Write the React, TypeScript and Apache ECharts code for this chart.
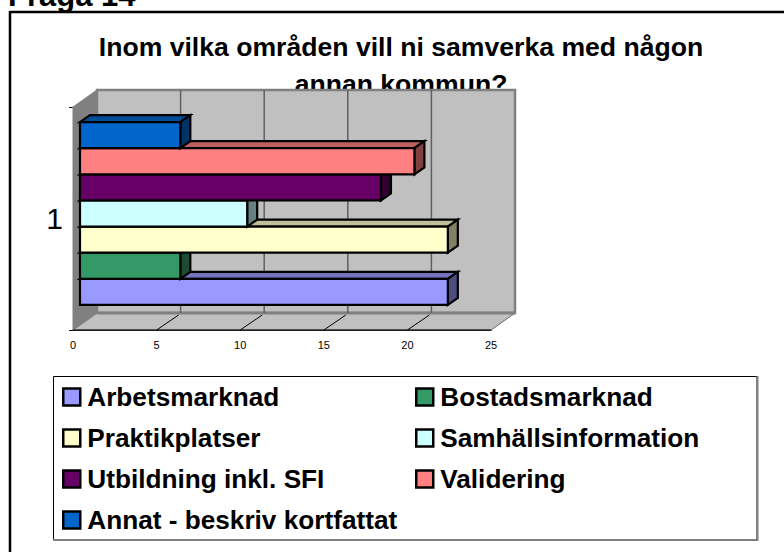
import React, { useEffect, useRef } from "react";
import * as echarts from "echarts";

const categories = ["1"];
const seriesNames = [
  "Arbetsmarknad",
  "Bostadsmarknad",
  "Praktikplatser",
  "Samhällsinformation",
  "Utbildning inkl. SFI",
  "Validering",
  "Annat - beskriv kortfattat",
];
const seriesValues = [22, 6, 22, 10, 18, 20, 6];
const seriesColors = ["#9999FF", "#339966", "#FFFFCC", "#CCFFFF", "#660066", "#FF8080", "#0066CC"];
const xTicks = [0, 5, 10, 15, 20, 25];
const heading = "Fråga 14";
const chartTitle = "Inom vilka områden vill ni samverka med någon\nannan kommun?";

const FONT = '"Liberation Sans", Arial, sans-serif';
const WALL_DX = 24;
const WALL_DY = -17;
const BAR_DX = 10;
const BAR_DY = -7;
const GAP_DX = 7;
const GAP_DY = -5;

function shade(hex: string, k: number) {
  const n = parseInt(hex.slice(1), 16);
  const c = [(n >> 16) & 255, (n >> 8) & 255, n & 255].map((v) => Math.round(v * k));
  return `rgb(${c[0]},${c[1]},${c[2]})`;
}

function renderWalls(_: any, api: any) {
  const b0 = api.coord([0, 0]);
  const band = api.size([0, 1])[1];
  const x0 = b0[0];
  const x1 = api.coord([25, 0])[0];
  const top = b0[1] - band / 2;
  const bot = b0[1] + band / 2;
  const poly = (points: number[][], fill: string, stroke: string, lineWidth = 1) => ({
    type: "polygon",
    shape: { points },
    style: { fill, stroke, lineWidth },
  });
  const line = (a: number[], c: number[], stroke: string, lineWidth = 1) => ({
    type: "line",
    shape: { x1: a[0], y1: a[1], x2: c[0], y2: c[1] },
    style: { stroke, lineWidth },
  });
  const children: any[] = [
    poly(
      [[x0 + WALL_DX, top + WALL_DY], [x1 + WALL_DX, top + WALL_DY], [x1 + WALL_DX, bot + WALL_DY], [x0 + WALL_DX, bot + WALL_DY]],
      "#C0C0C0",
      "#808080",
      2.5
    ),
    poly([[x0, bot], [x0 + WALL_DX, bot + WALL_DY], [x1 + WALL_DX, bot + WALL_DY], [x1, bot]], "#C0C0C0", "#808080", 1),
    poly([[x0, top], [x0 + WALL_DX, top + WALL_DY], [x0 + WALL_DX, bot + WALL_DY], [x0, bot]], "#808080", "#808080", 1),
    line([x0 + WALL_DX, bot + WALL_DY], [x1 + WALL_DX, bot + WALL_DY], "#808080", 3),
    line([x0, bot], [x1, bot], "#000", 1),
    line([x1, bot], [x1 + WALL_DX, bot + WALL_DY], "#808080", 1),
  ];
  xTicks.slice(1, -1).forEach((t) => {
    const x = api.coord([t, 0])[0];
    children.push(line([x + WALL_DX, top + WALL_DY], [x + WALL_DX, bot + WALL_DY], "#606060", 1.5));
    children.push(line([x, bot], [x + WALL_DX - 2, bot + WALL_DY + 2], "#000", 1));
  });
  return { type: "group", children, silent: true };
}

function renderBar(i: number) {
  return (_: any, api: any) => {
    const p = api.coord([api.value(0), 0]);
    const p0 = api.coord([0, 0]);
    const band = api.size([0, 1])[1];
    const h = (band * 0.82) / seriesNames.length;
    const bottom = p[1] + (band * 0.82) / 2 - i * h + GAP_DY;
    const top = bottom - h;
    const left = p0[0] + GAP_DX;
    const right = p[0] + GAP_DX;
    const color = seriesColors[i];
    const style = (fill: string) => ({ fill, stroke: "#000", lineWidth: 2.2, lineJoin: "miter" });
    return {
      type: "group",
      children: [
        {
          type: "polygon",
          shape: { points: [[left, top], [left + BAR_DX, top + BAR_DY], [right + BAR_DX, top + BAR_DY], [right, top]] },
          style: style(shade(color, 0.75)),
        },
        {
          type: "polygon",
          shape: { points: [[right, top], [right + BAR_DX, top + BAR_DY], [right + BAR_DX, bottom + BAR_DY], [right, bottom]] },
          style: style(shade(color, 0.5)),
        },
        { type: "rect", shape: { x: left, y: top, width: right - left, height: bottom - top }, style: style(color) },
      ],
    };
  };
}

const LEGEND_COLUMNS = [62, 415];
const LEGEND_ROWS = [384, 425, 466, 507];

export default function App() {
  const ref = useRef<HTMLDivElement>(null);
  useEffect(() => {
    const chart = echarts.init(ref.current!, undefined, { renderer: "svg" });
    chart.setOption({
      animation: false,
      backgroundColor: "#fff",
      title: [
        {
          text: heading,
          left: 8,
          top: -20,
          padding: 0,
          z: 1,
          textStyle: { fontFamily: FONT, fontSize: 31, fontWeight: "bold", color: "#000" },
        },
        {
          text: chartTitle,
          left: 401,
          top: 28,
          padding: 0,
          textAlign: "center",
          z: 1,
          textStyle: { fontFamily: FONT, fontSize: 26.6, fontWeight: "bold", color: "#000", lineHeight: 37 },
        },
      ],
      grid: { left: 73, right: 293, top: 107, bottom: 222, containLabel: false },
      xAxis: {
        type: "value",
        min: 0,
        max: 25,
        interval: 5,
        splitLine: { show: false },
        axisLine: { show: true, lineStyle: { color: "#000", width: 1 } },
        axisTick: { show: false },
        axisLabel: { fontFamily: FONT, fontSize: 11, color: "#000", margin: 9 },
      },
      yAxis: {
        type: "category",
        data: categories,
        axisLine: { show: true, onZero: false, lineStyle: { color: "#000", width: 1 } },
        axisTick: { show: true, length: 4, alignWithLabel: false, lineStyle: { color: "#000" } },
        axisLabel: { fontFamily: FONT, fontSize: 30, color: "#000", margin: 10 },
      },
      legend: seriesNames.map((name, i) => ({
        data: [
          {
            name,
            icon: "rect",
            itemStyle: { color: seriesColors[i], borderColor: "#000", borderWidth: 2.5 },
          },
        ],
        left: LEGEND_COLUMNS[i % 2],
        top: LEGEND_ROWS[Math.floor(i / 2)],
        padding: 0,
        itemWidth: 17,
        itemHeight: 17,
        selectedMode: false,
        textStyle: { fontFamily: FONT, fontSize: 26.2, fontWeight: "bold", color: "#000", padding: [0, 0, 0, 2] },
      })),
      graphic: [
        {
          type: "line",
          z: -10,
          silent: true,
          shape: { x1: 10, y1: 12, x2: 784, y2: 12 },
          style: { stroke: "#000", lineWidth: 2.5 },
        },
        {
          type: "line",
          z: -10,
          silent: true,
          shape: { x1: 10, y1: 11, x2: 10, y2: 552 },
          style: { stroke: "#000", lineWidth: 2.5 },
        },
        {
          type: "rect",
          z: -9,
          silent: true,
          shape: { x: 53.5, y: 376.5, width: 703.5, height: 163.5 },
          style: { fill: "#fff", stroke: "#000", lineWidth: 1 },
        },
        {
          type: "polyline",
          z: -8,
          silent: true,
          shape: { points: [[757.5, 376], [757.5, 540], [53, 540]] },
          style: { fill: "none", stroke: "#808080", lineWidth: 2 },
        },
      ],
      series: [
        {
          type: "custom",
          name: "walls",
          z: 2,
          silent: true,
          renderItem: renderWalls,
          data: [[0, 0]],
          encode: { x: 0, y: 1 },
        },
        ...seriesNames.map((name, i) => ({
          type: "custom",
          name,
          z: 3 + i,
          silent: true,
          itemStyle: { color: seriesColors[i] },
          renderItem: renderBar(i),
          data: [[seriesValues[i], 0]],
          encode: { x: 0, y: 1 },
        })),
      ],
    });
    return () => chart.dispose();
  }, []);
  return <div ref={ref} style={{ position: "fixed", left: 0, top: 0, width: 784, height: 552 }} />;
}
